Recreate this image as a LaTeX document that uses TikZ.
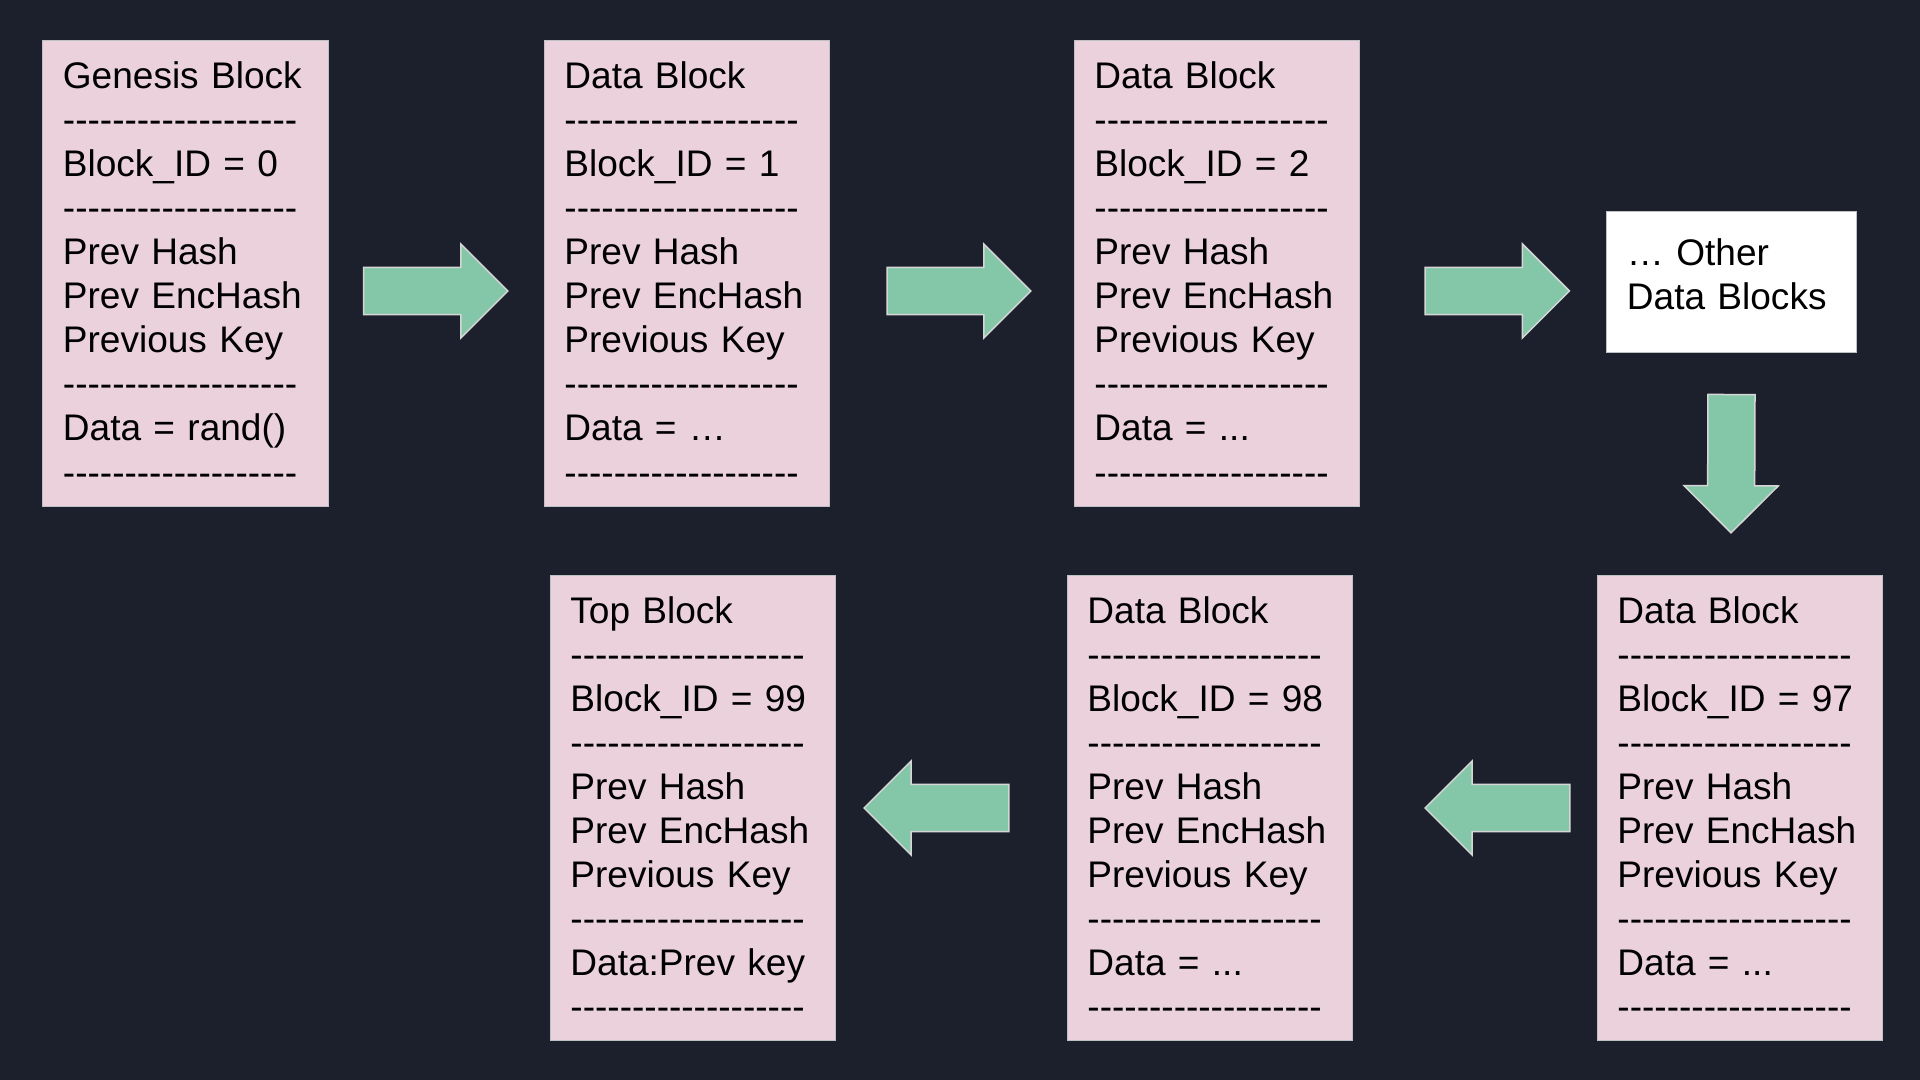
\documentclass[tikz,border=0pt]{standalone}
\usepackage{fontspec}
\usepackage{tikz}
\usetikzlibrary{calc}
\setmainfont{Liberation Sans}

\definecolor{bgdark}{RGB}{27,32,44}
\definecolor{blockpink}{RGB}{234,209,220}
\definecolor{boxedge}{RGB}{190,192,198}
\definecolor{arrowgreen}{RGB}{132,199,168}
\definecolor{arrowedge}{RGB}{214,214,214}

% a row of hyphens, kept apart so they do not join into dashes
\newcommand{\dashrow}{-\kern0pt-\kern0pt-\kern0pt-\kern0pt-\kern0pt-\kern0pt-\kern0pt-\kern0pt-\kern0pt-\kern0pt-\kern0pt-\kern0pt-\kern0pt-\kern0pt-\kern0pt-\kern0pt-\kern0pt-\kern0pt-}
\newcommand{\blockbody}[3]{#1\\ \dashrow\\ Block\_ID = #2\\ \dashrow\\ Prev Hash\\ Prev EncHash\\ Previous Key\\ \dashrow\\ #3\\ \dashrow}
% fat arrow from #1 to #2
\newcommand{\fatarrow}[2]{%
  \path (#1) coordinate (fa s) (#2) coordinate (fa t);
  \path ($(fa t)!0.47cm!(fa s)$) coordinate (fa h);
  \draw[fatarrow] ($(fa s)!0.235cm!90:(fa t)$) -- ($(fa h)!0.235cm!90:(fa t)$)
    -- ($(fa h)!0.47cm!90:(fa t)$) -- (fa t) -- ($(fa h)!0.47cm!-90:(fa t)$)
    -- ($(fa h)!0.235cm!-90:(fa t)$) -- ($(fa s)!0.235cm!-90:(fa t)$) -- cycle;}

\begin{document}
\begin{tikzpicture}[x=0.01cm, y=-0.01cm,
    block/.style={rectangle, fill=blockpink, draw=boxedge, line width=0.01cm,
      minimum width=2.85cm, minimum height=4.65cm, text width=2.45cm,
      inner xsep=0.2cm, inner ysep=0pt, align=left,
      font=\fontsize{10.53pt}{12.52pt}\selectfont},
    other/.style={rectangle, fill=white, draw=boxedge, line width=0.01cm,
      minimum width=2.49cm, minimum height=1.4cm, text width=2.09cm,
      inner xsep=0.2cm, inner ysep=0pt, align=left,
      font=\fontsize{10.53pt}{12.52pt}\selectfont},
    fatarrow/.style={fill=arrowgreen, draw=arrowedge, line width=0.015cm, line join=miter}]
  \fill[bgdark] (0,0) rectangle (1920,1080);
  \useasboundingbox (0,0) rectangle (1920,1080);

  \node[block] (b0) at (185.5,273.5) {\blockbody{Genesis Block}{0}{Data = rand()}};
  \node[block] (b1) at (687,273.5) {\blockbody{Data Block}{1}{Data = …}};
  \node[block] (b2) at (1217,273.5) {\blockbody{Data Block}{2}{Data = ...}};
  \node[other] (more) at (1731.5,282) {… Other\\ Data Blocks\rule[-0.15cm]{0pt}{0.15cm}};

  \node[block] (b97) at (1740,808) {\blockbody{Data Block}{97}{Data = ...}};
  \node[block] (b98) at (1210,808) {\blockbody{Data Block}{98}{Data = ...}};
  \node[block] (b99) at (693,808) {\blockbody{Top Block}{99}{Data:Prev key}};

  \fatarrow{[shift={(35,17.5)}]b0.east}{[shift={(-36,17.5)}]b1.west}
  \fatarrow{[shift={(57,17.5)}]b1.east}{[shift={(-43,17.5)}]b2.west}
  \fatarrow{[shift={(65,17.5)}]b2.east}{[shift={(-37,9)}]more.west}
  \fatarrow{[shift={(0,42)}]more.south}{[shift={(-9,-42)}]b97.north}
  \fatarrow{[shift={(-27,0)}]b97.west}{[shift={(72,0)}]b98.east}
  \fatarrow{[shift={(-58,0)}]b98.west}{[shift={(28,0)}]b99.east}
\end{tikzpicture}
\end{document}
